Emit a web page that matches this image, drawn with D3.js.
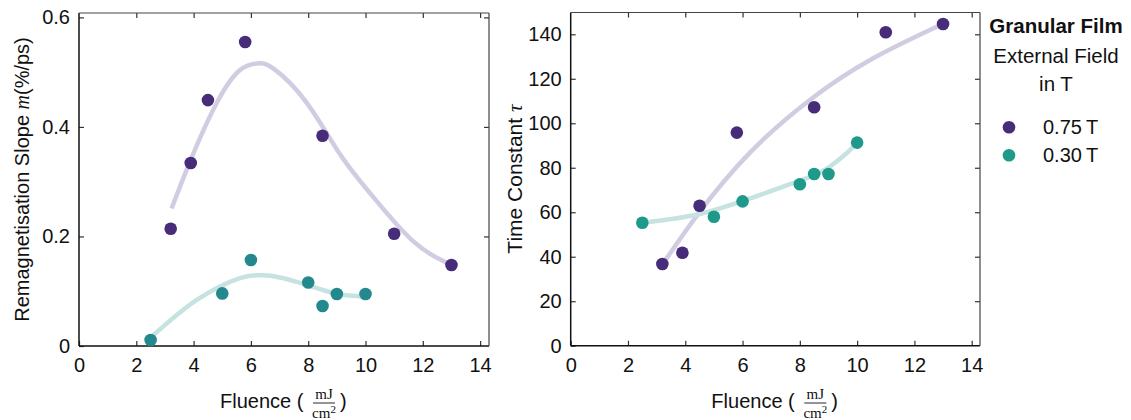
<!DOCTYPE html>
<html><head><meta charset="utf-8">
<script src="https://cdn.jsdelivr.net/npm/d3@7"></script>
<style>
body{margin:0;background:#fff;}
text{font-family:"Liberation Sans",Arial,Helvetica,sans-serif;fill:#111;}
.math{font-family:"Liberation Serif","Times New Roman",serif;font-style:italic;}
.serif{font-family:"Liberation Serif","Times New Roman",serif;}
</style></head>
<body>
<svg id="chart" width="1131" height="420"></svg>
<script>
// ---------- data ----------
const seriesNames = ["0.75 T", "0.30 T"];
// Left panel: remagnetisation slope m (%/ps)
const slopeFluence075 = [3.2, 3.9, 4.5, 5.8, 8.5, 11, 13];
const slopeValues075  = [0.214, 0.334, 0.449, 0.555, 0.384, 0.205, 0.148];
const slopeFluence030 = [2.5, 5.0, 6.0, 8.0, 8.5, 9.0, 10.0];
const slopeValues030  = [0.011, 0.096, 0.157, 0.116, 0.073, 0.095, 0.095];
// Fit curves
const slopeFitX075 = [3.23, 3.9, 4.81, 5.6, 6.2, 6.8, 7.95, 9.11, 10.27, 11.67, 12.95];
const slopeFitY075 = [0.251, 0.340, 0.444, 0.503, 0.516, 0.506, 0.444, 0.350, 0.272, 0.191, 0.149];
const slopeFitX030 = [2.54, 4.11, 5.62, 6.32, 7.02, 8.41, 9.11, 9.98];
const slopeFitY030 = [0.017, 0.084, 0.124, 0.129, 0.125, 0.104, 0.094, 0.090];
// Right panel: time constant tau
const tauFluence075 = [3.2, 3.9, 4.5, 5.8, 8.5, 11, 13];
const tauValues075  = [36.7, 41.8, 62.9, 95.8, 107.2, 140.9, 144.6];
const tauFluence030 = [2.5, 5.0, 6.0, 8.0, 8.5, 9.0, 10.0];
const tauValues030  = [55.3, 58.0, 64.9, 72.6, 77.2, 77.2, 91.3];
const tauFitX075 = [3.23, 4.51, 6.26, 8.35, 10.56, 12.95];
const tauFitY075 = [37.0, 60.3, 86.8, 110.5, 129.2, 144.4];
const tauFitX030 = [2.53, 4.51, 6.37, 8.24, 9.05, 9.63, 9.98];
const tauFitY030 = [55.3, 59.2, 66.7, 75.3, 80.5, 86.5, 91.0];
// ticks
const xTicks = [0, 2, 4, 6, 8, 10, 12, 14];
const slopeTicks = [0, 0.2, 0.4, 0.6];
const slopeTickLabels = ["0", "0.2", "0.4", "0.6"];
const tauTicks = [0, 20, 40, 60, 80, 100, 120, 140];

// ---------- styles ----------
const dotPurple = "#472c7a";
const dotTealL = "#23898e";
const dotTealR = "#1f9a8a";
const fitPurple = "#d2cce2";
const fitTeal = "#c6e3e1";

const svg = d3.select("#chart");
const zip = (a, b) => a.map((v, i) => [v, b[i]]);

function panel(opt) {
  const {x0, x1, y0, y1, xMax, yDomain, yTicks, yFmt, fits, dots, yTitle} = opt;
  const x = d3.scaleLinear().domain([0, xMax]).range([x0, x1]);
  const y = d3.scaleLinear().domain(yDomain).range([y1, y0]);
  const g = svg.append("g");
  const T = 5;
  const bottom = g.append("g").attr("transform", `translate(0,${y1})`)
    .call(d3.axisBottom(x).tickValues(xTicks).tickSizeInner(-T).tickSizeOuter(0).tickPadding(12));
  const top = g.append("g").attr("transform", `translate(0,${y0})`)
    .call(d3.axisTop(x).tickValues(xTicks.slice(1)).tickSizeInner(-T).tickSizeOuter(0).tickFormat(""));
  const left = g.append("g").attr("transform", `translate(${x0},0)`)
    .call(d3.axisLeft(y).tickValues(yTicks).tickSizeInner(-T).tickSizeOuter(0).tickPadding(9).tickFormat(yFmt));
  const right = g.append("g").attr("transform", `translate(${x1},0)`)
    .call(d3.axisRight(y).tickValues(yTicks.slice(1)).tickSizeInner(-T).tickSizeOuter(0).tickFormat(""));
  [bottom, top, left, right].forEach(a => {
    a.select(".domain").remove();
    a.selectAll(".tick line").attr("stroke", "#333").attr("stroke-width", 1.2);
    a.selectAll(".tick text").attr("font-size", 20).attr("font-family", "Liberation Sans, Arial, sans-serif").attr("fill", "#111");
  });
  g.append("line").attr("x1", x0).attr("x2", x1).attr("y1", y1).attr("y2", y1).attr("stroke", "#111").attr("stroke-width", 1.5);
  g.append("line").attr("x1", x0).attr("x2", x0).attr("y1", y0).attr("y2", y1).attr("stroke", "#111").attr("stroke-width", 1.5);
  g.append("line").attr("x1", x0).attr("x2", x1).attr("y1", y0).attr("y2", y0).attr("stroke", "#444").attr("stroke-width", 1.2);
  g.append("line").attr("x1", x1).attr("x2", x1).attr("y1", y0).attr("y2", y1).attr("stroke", "#444").attr("stroke-width", 1.2);

  const line = d3.line().x(d => x(d[0])).y(d => y(d[1])).curve(d3.curveNatural);
  fits.forEach(f => g.append("path").datum(f.data).attr("d", line)
    .attr("fill", "none").attr("stroke", f.color).attr("stroke-width", 4.5).attr("stroke-linecap", "butt"));
  dots.forEach(s => g.append("g").selectAll("circle").data(s.data).join("circle")
    .attr("cx", d => x(d[0])).attr("cy", d => y(d[1])).attr("r", 6.3).attr("fill", s.color));

  // x title
  const cx = (x0 + x1) / 2;
  const xt = g.append("g").attr("transform", `translate(${cx - 64},408)`);
  xt.append("text").attr("x", 0).attr("y", 0).attr("font-size", 20).text("Fluence (");
  xt.append("text").attr("class", "serif").attr("x", 104).attr("y", -9).attr("font-size", 15).attr("text-anchor", "middle").text("mJ");
  xt.append("line").attr("x1", 93).attr("x2", 115).attr("y1", -5).attr("y2", -5).attr("stroke", "#111").attr("stroke-width", 0.9);
  const den = xt.append("text").attr("class", "serif").attr("x", 104).attr("y", 9.5).attr("font-size", 15).attr("text-anchor", "middle");
  den.append("tspan").text("cm");
  den.append("tspan").attr("font-size", 11).attr("dy", -5).text("2");
  xt.append("text").attr("x", 120).attr("y", 0).attr("font-size", 20).text(")");

  const yt = g.append("text").attr("transform", `translate(${opt.yTitleX},${(y0 + y1) / 2}) rotate(-90)`)
    .attr("text-anchor", "middle").attr("font-size", 20);
  yTitle(yt);
  return {x, y};
}

panel({
  x0: 79, x1: 489, y0: 13, y1: 346, xMax: 14.31, yDomain: [0, 0.608],
  yTicks: slopeTicks, yFmt: (d, i) => slopeTickLabels[i],
  fits: [{data: zip(slopeFitX075, slopeFitY075), color: fitPurple}, {data: zip(slopeFitX030, slopeFitY030), color: fitTeal}],
  dots: [{data: zip(slopeFluence075, slopeValues075), color: dotPurple}, {data: zip(slopeFluence030, slopeValues030), color: dotTealL}],
  yTitleX: 29,
  yTitle: t => { t.append("tspan").text("Remagnetisation Slope "); t.append("tspan").attr("class", "math").text("m");
    t.append("tspan").text("(%/ps)"); }
});

panel({
  x0: 570.7, x1: 980, y0: 12.5, y1: 345.7, xMax: 14.29, yDomain: [0, 149.8],
  yTicks: tauTicks, yFmt: d => String(d),
  fits: [{data: zip(tauFitX075, tauFitY075), color: fitPurple}, {data: zip(tauFitX030, tauFitY030), color: fitTeal}],
  dots: [{data: zip(tauFluence075, tauValues075), color: dotPurple}, {data: zip(tauFluence030, tauValues030), color: dotTealR}],
  yTitleX: 522,
  yTitle: t => { t.append("tspan").attr("font-size", 21).text("Time Constant "); t.append("tspan").attr("class", "math").attr("font-size", 21).text("τ"); }
});

// legend
const lg = svg.append("g");
lg.append("text").attr("x", 1056).attr("y", 33).attr("text-anchor", "middle").attr("font-size", 20.5).attr("font-weight", "bold").text("Granular Film");
lg.append("text").attr("x", 1056).attr("y", 63).attr("text-anchor", "middle").attr("font-size", 20.5).text("External Field");
lg.append("text").attr("x", 1056).attr("y", 91).attr("text-anchor", "middle").attr("font-size", 20.5).text("in T");
const legendColors = [dotPurple, dotTealR];
seriesNames.forEach((n, i) => {
  const yy = 127.3 + i * 28;
  lg.append("circle").attr("cx", 1009).attr("cy", yy).attr("r", 6.3).attr("fill", legendColors[i]);
  lg.append("text").attr("x", 1043).attr("y", yy + 7).attr("font-size", 20).text(n.replace(" ", "\u2009"));
});
</script>
</body></html>
